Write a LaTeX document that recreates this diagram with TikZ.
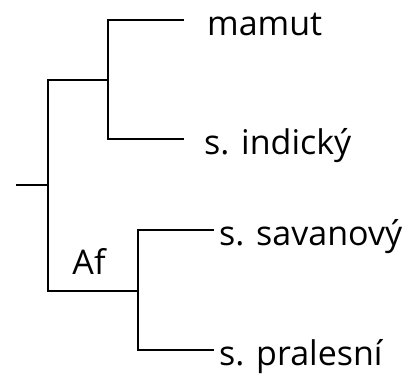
\documentclass[tikz,border=0pt]{standalone}
\usepackage{fontspec}
\setmainfont{Open Sans}
\begin{document}
\begin{tikzpicture}[x=1pt,y=-1pt,
  branch/.style={line width=1.6pt, line cap=rect},
  leaf/.style={anchor=base west, inner sep=0pt, font=\fontsize{34}{40}\selectfont},
  tag/.style={anchor=base, inner sep=0pt, font=\fontsize{34}{40}\selectfont}]
\useasboundingbox (0,0) rectangle (418,374);
\coordinate (root) at (17,185);
\coordinate (r) at (48,185);
\coordinate (a) at (108,80);
\coordinate (b) at (138,291);
\coordinate (em) at (183,20);
\coordinate (ei) at (183,139);
\coordinate (es) at (213,230);
\coordinate (ep) at (213,350);
\draw[branch] (root) -- (r);
\draw[branch] (r) |- (a);
\draw[branch] (r) |- (b);
\draw[branch] (a) |- (em);
\draw[branch] (a) |- (ei);
\draw[branch] (b) |- (es);
\draw[branch] (b) |- (ep);
\node[leaf] (m) at (207,36) {mamut};
\node[leaf] (i) at (204,155) {s. indický};
\node[leaf] (s) at (219,246) {s. savanový};
\node[leaf] (p) at (219,365) {s. pralesní};
\node[tag] (af) at (89,275) {Af};
\end{tikzpicture}
\end{document}
